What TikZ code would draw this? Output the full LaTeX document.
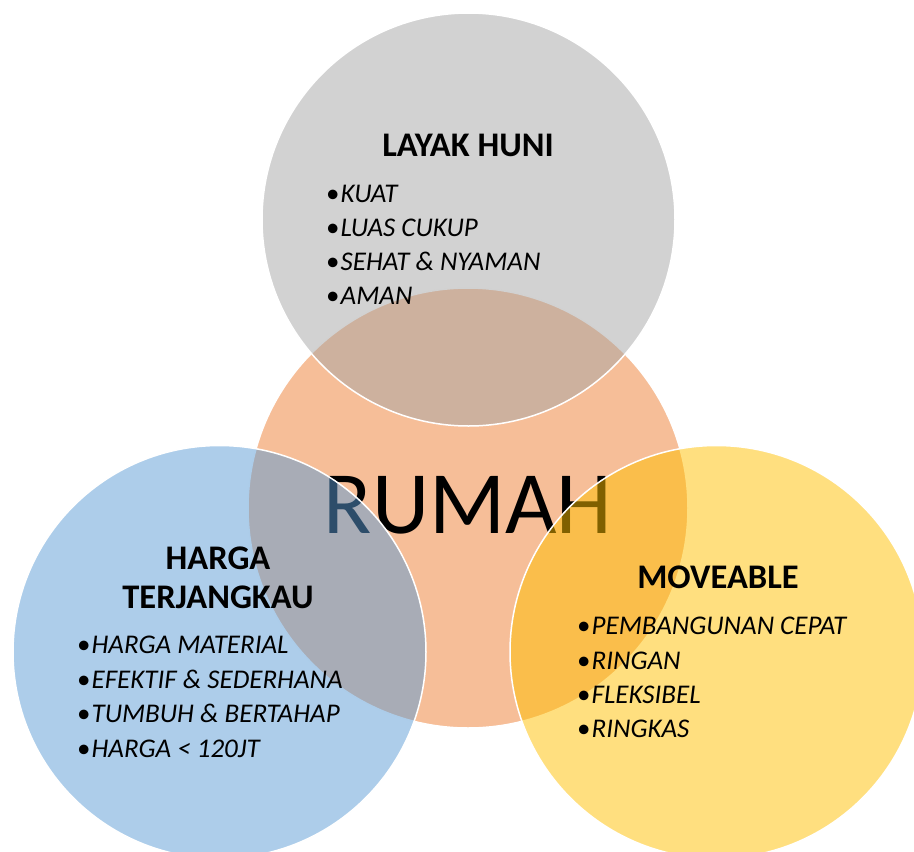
\documentclass[tikz,border=0pt]{standalone}
\usepackage{fontspec}
\setmainfont{Carlito}
\definecolor{orangeC}{HTML}{ED7D31}
\definecolor{grayC}{HTML}{A5A5A5}
\definecolor{blueC}{HTML}{5B9BD5}
\definecolor{goldC}{HTML}{FFC000}
\newcommand{\bul}{•\kern1pt}
\begin{document}
\begin{tikzpicture}[x=1pt,y=-1pt,
  petal/.style={circle, minimum size=413pt, inner sep=0pt, fill=#1, fill opacity=0.5,
                draw=white, draw opacity=1, line width=1.5pt},
  title/.style={font=\fontsize{34.5}{38}\selectfont\bfseries, anchor=base, inner sep=0pt},
  item/.style={font=\fontsize{27}{32}\selectfont, anchor=base west, inner sep=0pt}]
\clip (0,0) rectangle (914,852);
\useasboundingbox (0,0) rectangle (914,852);

% centre circle and its label
\node[petal=orangeC, minimum size=440pt] (house) at (468,508) {};
\node[font=\fontsize{89}{94}\selectfont, anchor=base, inner sep=0pt] (rumah) at (468,533) {RUMAH};

% three overlapping criteria circles
\node[petal=grayC] (live) at (468.5,219.5) {};
\node[petal=blueC] (cost) at (219.5,652) {};
\node[petal=goldC] (move) at (716.5,652) {};

% LAYAK HUNI
\node[title] (t1) at (468,156) {LAYAK HUNI};
\node[item] (a1) at (326,202) {\bul\textit{KUAT}};
\node[item] (a2) at (326,236) {\bul\textit{LUAS CUKUP}};
\node[item] (a3) at (326,270) {\bul\textit{SEHAT \& NYAMAN}};
\node[item] (a4) at (326,304) {\bul\textit{AMAN}};

% HARGA TERJANGKAU
\node[title] (t2a) at (218,569) {HARGA};
\node[title] (t2b) at (218,608) {TERJANGKAU};
\node[item] (b1) at (77,653) {\bul\textit{HARGA MATERIAL}};
\node[item] (b2) at (77,688) {\bul\textit{EFEKTIF \& SEDERHANA}};
\node[item] (b3) at (77,722) {\bul\textit{TUMBUH \& BERTAHAP}};
\node[item] (b4) at (77,757) {\bul\textit{HARGA < 120JT}};

% MOVEABLE
\node[title] (t3) at (718,588) {MOVEABLE};
\node[item] (c1) at (577,634) {\bul\textit{PEMBANGUNAN CEPAT}};
\node[item] (c2) at (577,669) {\bul\textit{RINGAN}};
\node[item] (c3) at (577,703) {\bul\textit{FLEKSIBEL}};
\node[item] (c4) at (577,737) {\bul\textit{RINGKAS}};
\end{tikzpicture}
\end{document}
